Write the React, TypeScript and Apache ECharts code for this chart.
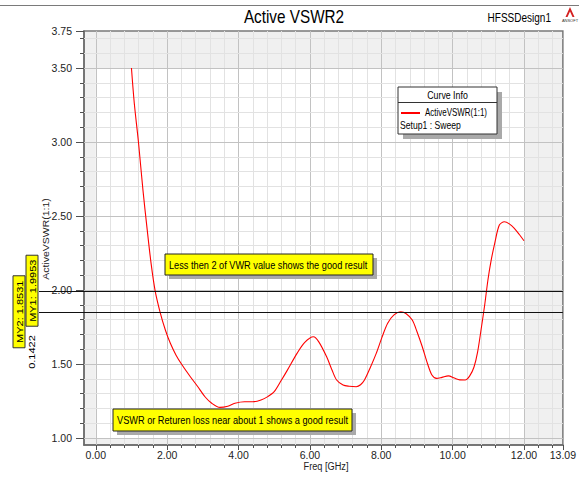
import React, { useEffect, useRef } from "react";
import * as echarts from "echarts";

// ---- data ----
const freqGHz = [
  1.0, 1.08, 1.2, 1.32, 1.44, 1.55, 1.66, 1.8, 1.95, 2.09, 2.25, 2.42, 2.65, 2.85,
  3.06, 3.25, 3.48, 3.7, 3.9, 4.17, 4.4, 4.63, 4.82, 5.0, 5.2, 5.37, 5.64, 5.85,
  6.1, 6.25, 6.47, 6.62, 6.75, 6.93, 7.1, 7.3, 7.42, 7.53, 7.7, 7.86, 8.02, 8.18,
  8.35, 8.55, 8.7, 8.87, 9.0, 9.15, 9.3, 9.42, 9.55, 9.7, 9.88, 10.05, 10.2, 10.35,
  10.48, 10.6, 10.7, 10.81, 10.9, 10.99, 11.08, 11.18, 11.31, 11.45, 11.6, 11.73,
  11.87, 12.0,
];
const activeVSWR = [
  3.5, 3.26, 2.99, 2.68, 2.41, 2.18, 2.0, 1.853, 1.73, 1.64, 1.56, 1.493, 1.414, 1.35,
  1.279, 1.235, 1.207, 1.215, 1.235, 1.245, 1.245, 1.257, 1.28, 1.313, 1.39, 1.459, 1.572, 1.645,
  1.684, 1.65, 1.549, 1.46, 1.392, 1.358, 1.35, 1.347, 1.36, 1.392, 1.48, 1.572, 1.68, 1.775,
  1.83, 1.853, 1.84, 1.797, 1.72, 1.617, 1.5, 1.426, 1.403, 1.41, 1.42, 1.405, 1.393, 1.392,
  1.42, 1.48, 1.58, 1.752, 1.9, 2.068, 2.2, 2.316, 2.439, 2.461, 2.445, 2.417,
  2.375, 2.333,
];
const xTickLabels = [0, 2, 4, 6, 8, 10, 12, 13.09];
const yTickLabels = [1.0, 1.5, 2.0, 2.5, 3.0, 3.5, 3.75];
const markerNames = ["MY1", "MY2"];
const markerValues = [1.9953, 1.8531];
const markerDelta = "0.1422";
const legendName = "ActiveVSWR(1:1)";
const legendSetup = "Setup1 : Sweep";
const note1 = "Less then 2 of VWR value shows the good result";
const note2 = "VSWR or Returen loss near about 1 shows a good result";

const X_MIN = -0.33;
const X_MAX = 13.09;
const Y_MIN = 0.953;
const Y_MAX = 3.75;
const DATA_X = [0, 12];
const DATA_Y = [1.0, 3.5];

const FONT = "'Liberation Sans', Arial, sans-serif";

const xGridVals: number[] = Array.from({ length: 33 }, (_, i) => +(i * 0.4).toFixed(2));
const yGridVals: number[] = Array.from({ length: 28 }, (_, i) => +(1 + i * 0.1).toFixed(2));
const isMult = (v: number, m: number) => Math.abs(v / m - Math.round(v / m)) < 1e-6;

export default function App() {
  const ref = useRef<HTMLDivElement>(null);
  useEffect(() => {
    const chart = echarts.init(ref.current!, null, { renderer: "svg" });
    const xMinor = xGridVals.filter((v) => !isMult(v, 2));
    const yMinor = yGridVals.filter((v) => !isMult(v, 0.5));
    const tickColor = "#505050";
    const gridLines = [
      ...xGridVals.map((v) => ({
        xAxis: v,
        lineStyle: { color: isMult(v, 2) ? "#c2c2c2" : "#e2e2e2", width: 1, type: "solid" },
      })),
      ...yGridVals.map((v) => ({
        yAxis: v,
        lineStyle: { color: isMult(v, 0.5) ? "#c2c2c2" : "#e2e2e2", width: 1, type: "solid" },
      })),
    ];
    const option: any = {
      animation: false,
      grid: {
        left: 84,
        top: 31,
        right: 11,
        bottom: 35,
        show: true,
        backgroundColor: "#f0f0f0",
        borderColor: "#7a7a7a",
        borderWidth: 1.5,
      },
      xAxis: [
        {
          type: "value",
          min: X_MIN,
          max: X_MAX,
          position: "bottom",
          axisLine: { show: true, onZero: false, lineStyle: { color: "#6a6a6a", width: 1.5 } },
          axisTick: { show: true, customValues: xTickLabels, length: 5, lineStyle: { color: tickColor } },
          axisLabel: {
            customValues: xTickLabels,
            formatter: (v: number) => v.toFixed(2),
            margin: 4,
            fontSize: 10.5,
            fontFamily: FONT,
            color: "#222",
          },
          splitLine: { show: false },
        },
        {
          type: "value",
          min: X_MIN,
          max: X_MAX,
          position: "bottom",
          axisLine: { show: false, onZero: false },
          axisTick: { show: true, customValues: xMinor, length: 3, lineStyle: { color: tickColor } },
          axisLabel: { show: false },
          splitLine: { show: false },
        },
      ],
      yAxis: [
        {
          type: "value",
          min: Y_MIN,
          max: Y_MAX,
          position: "left",
          axisLine: { show: true, onZero: false, lineStyle: { color: "#6a6a6a", width: 1.5 } },
          axisTick: { show: true, customValues: yTickLabels, length: 8, lineStyle: { color: tickColor } },
          axisLabel: {
            customValues: yTickLabels,
            formatter: (v: number) => v.toFixed(2),
            margin: 12,
            fontSize: 10.5,
            fontFamily: FONT,
            color: "#222",
          },
          splitLine: { show: false },
        },
        {
          type: "value",
          min: Y_MIN,
          max: Y_MAX,
          position: "left",
          axisLine: { show: false, onZero: false },
          axisTick: { show: true, customValues: yMinor, length: 4, lineStyle: { color: tickColor } },
          axisLabel: { show: false },
          splitLine: { show: false },
        },
      ],
      series: [
        {
          type: "line",
          xAxisIndex: 0,
          yAxisIndex: 0,
          data: [[DATA_X[0], DATA_Y[0]]],
          showSymbol: false,
          lineStyle: { width: 0 },
          silent: true,
          markArea: {
            silent: true,
            z: 1,
            itemStyle: { color: "#ffffff", opacity: 1 },
            data: [[{ coord: [DATA_X[0], DATA_Y[0]] }, { coord: [DATA_X[1], DATA_Y[1]] }]],
          },
          markLine: {
            silent: true,
            z: 2,
            symbol: ["none", "none"],
            label: { show: false },
            data: gridLines,
          },
        },
        {
          name: legendName,
          type: "line",
          xAxisIndex: 0,
          yAxisIndex: 0,
          z: 3,
          data: freqGHz.map((f, i) => [f, activeVSWR[i]]),
          showSymbol: false,
          smooth: 0.3,
          lineStyle: { color: "#ff0000", width: 1.1 },
        },
      ],
    };
    chart.setOption(option);

    const finder = { xAxisIndex: 0, yAxisIndex: 0 };
    const yPix = markerValues.map((v) => (chart.convertToPixel(finder, [0, v]) as number[])[1]);
    const xRight = (chart.convertToPixel(finder, [X_MAX, 1]) as number[])[0];

    const Z = 30;
    const txt = (x: number, y: number, text: string, size: number, opts: any = {}) => ({
      type: "text",
      z: Z + 2,
      x,
      y,
      scaleX: opts.scaleX ?? 1,
      scaleY: opts.scaleY ?? 1,
      rotation: opts.rotation ?? 0,
      style: {
        text,
        fontSize: size,
        fontFamily: FONT,
        fill: opts.fill ?? "#000",
        align: opts.align ?? "left",
        verticalAlign: "middle",
      },
    });

    const markerBox = (cx: number, cy: number, len: number, label: string) => [
      {
        type: "rect",
        z: Z,
        shape: { x: cx - 6, y: cy - len / 2, width: 12, height: len },
        style: { fill: "#ffff00", stroke: "#333", lineWidth: 1 },
      },
      txt(cx + 0.5, cy, label, 11, { rotation: Math.PI / 2, align: "center", scaleY: 0.85 }),
    ];

    const noteBox = (x: number, y: number, w: number, h: number, text: string, sx: number) => [
      { type: "rect", z: Z, shape: { x: x + 4, y: y + 4, width: w, height: h }, style: { fill: "#a9a9a9" } },
      { type: "rect", z: Z + 1, shape: { x, y, width: w, height: h }, style: { fill: "#ffff00", stroke: "#222", lineWidth: 1 } },
      txt(x + 4, y + h / 2 + 0.5, text, 11.5, { scaleX: sx }),
    ];

    chart.setOption({
      graphic: [
        // top rule line
        { type: "line", z: Z, shape: { x1: 0, y1: 5.5, x2: 579, y2: 5.5 }, style: { stroke: "#7a7a7a", lineWidth: 1 } },
        // title and design name
        txt(294, 17, "Active VSWR2", 18, { align: "center", scaleX: 0.85 }),
        txt(551, 17, "HFSSDesign1", 13, { align: "right", scaleX: 0.77 }),
        // logo
        {
          type: "polygon",
          z: Z,
          shape: { points: [[570, 7], [565.5, 17], [567.5, 17], [570, 11.5], [572.5, 17], [574.5, 17]] },
          style: { fill: "#d42020" },
        },
        txt(570, 20.5, "ANSOFT", 4, { align: "center", fill: "#333" }),
        // axis names
        txt(46, 239, "ActiveVSWR(1:1)", 10.5, { rotation: Math.PI / 2, align: "center", scaleY: 0.85, fill: "#222" }),
        txt(326, 466, "Freq [GHz]", 11.5, { align: "center", scaleX: 0.8, fill: "#222" }),
        // marker lines
        ...yPix.map((py) => ({
          type: "line",
          z: Z - 5,
          shape: { x1: 39, y1: Math.round(py) + 0.5, x2: xRight, y2: Math.round(py) + 0.5 },
          style: { stroke: "#111", lineWidth: 1 },
        })),
        ...markerBox(32, yPix[0], 71, `${markerNames[0]}: ${markerValues[0].toFixed(4)}`),
        ...markerBox(19, yPix[1], 72, `${markerNames[1]}: ${markerValues[1].toFixed(4)}`),
        txt(32, 352, markerDelta, 11, { rotation: Math.PI / 2, align: "center", scaleY: 0.85 }),
        // legend box
        { type: "rect", z: Z, shape: { x: 403, y: 92, width: 99, height: 47 }, style: { fill: "#a9a9a9" } },
        { type: "rect", z: Z + 1, shape: { x: 398, y: 87, width: 99, height: 47 }, style: { fill: "#fff", stroke: "#333", lineWidth: 1 } },
        txt(447.5, 95, "Curve Info", 11, { align: "center", scaleX: 0.8 }),
        { type: "line", z: Z + 2, shape: { x1: 398, y1: 102.5, x2: 497, y2: 102.5 }, style: { stroke: "#333", lineWidth: 1 } },
        { type: "line", z: Z + 2, shape: { x1: 401, y1: 113, x2: 420, y2: 113 }, style: { stroke: "#ff0000", lineWidth: 2 } },
        txt(425, 113, legendName, 10.5, { scaleX: 0.76 }),
        txt(400, 125, legendSetup, 10.5, { scaleX: 0.82 }),
        // notes
        ...noteBox(165, 254, 208, 21, note1, 0.8),
        ...noteBox(113, 409, 239, 22, note2, 0.8),
      ],
    });

    return () => chart.dispose();
  }, []);
  return <div ref={ref} style={{ position: "fixed", left: 0, top: 0, width: 579, height: 480, background: "#fff" }} />;
}
